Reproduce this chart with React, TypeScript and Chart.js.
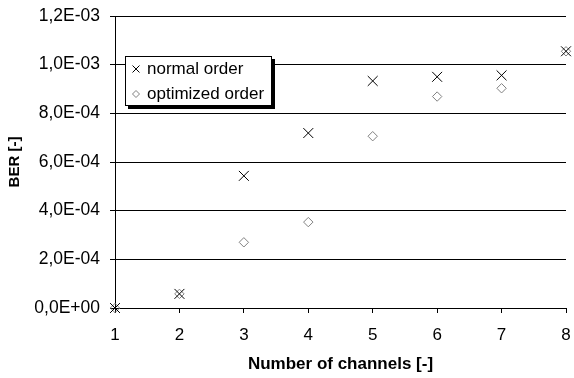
import React, { useEffect, useRef } from "react";
import { Chart, registerables } from "chart.js";

Chart.register(...registerables);

const channels = [1, 2, 3, 4, 5, 6, 7, 8];
const normalOrder = [0, 5.8e-5, 5.43e-4, 7.19e-4, 9.33e-4, 9.5e-4, 9.56e-4, 1.055e-3];
const optimizedOrder = [0, 5.8e-5, 2.7e-4, 3.53e-4, 7.06e-4, 8.69e-4, 9.03e-4, 1.055e-3];
const seriesLabels = ["normal order", "optimized order"];
const xTitle = "Number of channels [-]";
const yTitle = "BER [-]";

const FONT = '"Liberation Sans", Arial, sans-serif';
const GRAY = "#808080";

function fmtExp(v: number): string {
  if (Math.abs(v) < 1e-12) return "0,0E+00";
  const [m, e] = v.toExponential(1).split("e");
  const n = parseInt(e, 10);
  return m.replace(".", ",") + "E" + (n < 0 ? "-" : "+") + String(Math.abs(n)).padStart(2, "0");
}

const legendPlugin = {
  id: "boxLegend",
  afterDatasetsDraw(chart: any) {
    const { ctx, chartArea } = chart;
    const x = chartArea.left + 10;
    const y = chartArea.top + 40;
    const w = 147;
    const h = 50;
    ctx.save();
    ctx.fillStyle = "#000";
    ctx.fillRect(x + 3, y + 3, w, h);
    ctx.fillStyle = "#fff";
    ctx.fillRect(x, y, w, h);
    ctx.strokeStyle = "#000";
    ctx.lineWidth = 1;
    ctx.strokeRect(x + 0.5, y + 0.5, w - 1, h - 1);
    const rows = [y + 13, y + 38];
    const mx = x + 11;
    ctx.beginPath();
    ctx.strokeStyle = "#000";
    ctx.moveTo(mx - 3.5, rows[0] - 3.5);
    ctx.lineTo(mx + 3.5, rows[0] + 3.5);
    ctx.moveTo(mx - 3.5, rows[0] + 3.5);
    ctx.lineTo(mx + 3.5, rows[0] - 3.5);
    ctx.stroke();
    ctx.beginPath();
    ctx.strokeStyle = GRAY;
    ctx.moveTo(mx - 3.5, rows[1]);
    ctx.lineTo(mx, rows[1] - 3.5);
    ctx.lineTo(mx + 3.5, rows[1]);
    ctx.lineTo(mx, rows[1] + 3.5);
    ctx.closePath();
    ctx.stroke();
    ctx.fillStyle = "#000";
    ctx.font = `17px ${FONT}`;
    ctx.textBaseline = "middle";
    ctx.textAlign = "left";
    const labels = chart.data.datasets.map((d: any) => d.label);
    ctx.fillText(labels[0], x + 22, rows[0]);
    ctx.fillText(labels[1], x + 22, rows[1]);
    ctx.restore();
  },
};

export default function App() {
  const ref = useRef<HTMLCanvasElement>(null);
  useEffect(() => {
    if (!ref.current) return;
    Chart.defaults.color = "#000";
    const chart = new Chart(ref.current, {
      type: "scatter",
      data: {
        datasets: [
          {
            label: seriesLabels[0],
            data: channels.map((c, i) => ({ x: c, y: normalOrder[i] })),
            pointStyle: "crossRot",
            pointRadius: 7,
            pointBorderColor: "#000",
            pointBackgroundColor: "#000",
            pointBorderWidth: 1,
            showLine: false,
            clip: false,
          },
          {
            label: seriesLabels[1],
            data: channels.map((c, i) => ({ x: c, y: optimizedOrder[i] })),
            pointStyle: "rectRot",
            pointRadius: 4.7,
            pointBorderColor: GRAY,
            pointBackgroundColor: "rgba(255,255,255,0)",
            pointBorderWidth: 1,
            showLine: false,
            clip: false,
          },
        ],
      },
      options: {
        responsive: false,
        animation: false,
        devicePixelRatio: 1,
        layout: { padding: { left: 0, top: 16, right: 6, bottom: 0 } },
        plugins: { legend: { display: false }, tooltip: { enabled: false } },
        scales: {
          x: {
            type: "linear",
            min: 1,
            max: 8,
            afterFit: (s: any) => {
              s.height = 70;
              s.paddingLeft = 0;
              s.paddingRight = 0;
            },
            ticks: {
              stepSize: 1,
              padding: 12,
              color: "#000",
              font: { family: FONT, size: 17 },
              callback: (v: any) => String(v),
            },
            grid: {
              drawOnChartArea: false,
              drawTicks: true,
              tickLength: 5,
              color: "#000",
            },
            border: { display: true, color: "#000" },
            title: {
              display: true,
              text: xTitle,
              color: "#000",
              font: { family: FONT, size: 17, weight: "bold" },
              padding: { top: 0, bottom: 3 },
            },
          },
          y: {
            type: "linear",
            min: 0,
            max: 1.2e-3,
            afterFit: (s: any) => {
              s.width = 115;
              s.paddingTop = 0;
              s.paddingBottom = 0;
            },
            ticks: {
              stepSize: 2e-4,
              padding: 10,
              color: "#000",
              font: { family: FONT, size: 17.5 },
              callback: (v: any) => fmtExp(Number(v)),
            },
            grid: {
              drawOnChartArea: true,
              drawTicks: true,
              tickLength: 5,
              color: "#000",
            },
            border: { display: true, color: "#000" },
            title: {
              display: true,
              text: yTitle,
              color: "#000",
              font: { family: FONT, size: 15, weight: "bold" },
              padding: { top: 6, bottom: 0 },
            },
          },
        },
      },
      plugins: [legendPlugin],
    } as any);
    return () => chart.destroy();
  }, []);
  return (
    <div style={{ position: "absolute", left: 0, top: 0, width: 574, height: 378, background: "#fff" }}>
      <canvas ref={ref} width={574} height={378} style={{ display: "block" }} />
    </div>
  );
}
